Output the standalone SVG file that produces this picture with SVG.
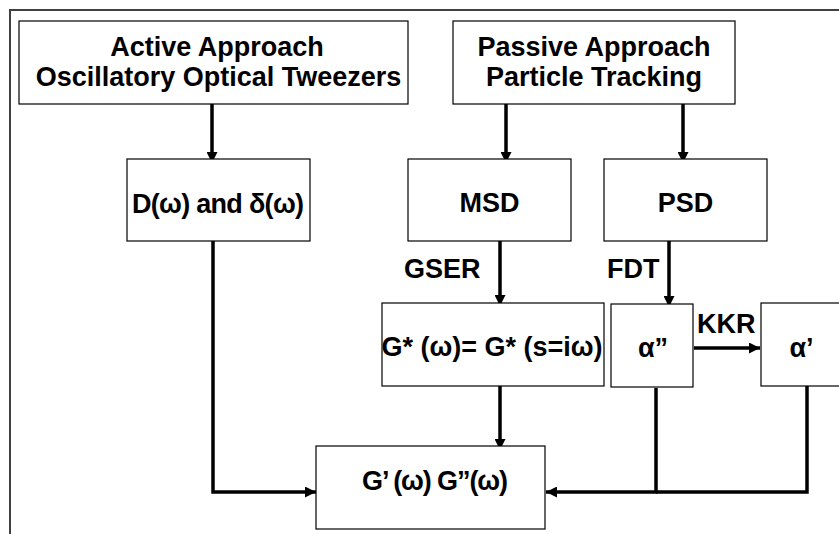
<svg xmlns="http://www.w3.org/2000/svg" width="839" height="534" viewBox="0 0 839 534">
<defs>
<style>
.box{fill:#fff;stroke:#000;stroke-width:1.2}
.t{font-family:"Liberation Sans",Arial,sans-serif;font-weight:bold;font-size:27px;fill:#000}
.c{text-anchor:middle}
.ln{fill:none;stroke:#000;stroke-width:3.5}
</style>
<marker id="ah" markerUnits="userSpaceOnUse" markerWidth="11" markerHeight="11" viewBox="0 0 10 10" refX="10" refY="5" orient="auto">
<path d="M0,0 L10,5 L0,10 z" fill="#000"/>
</marker>
</defs>
<rect x="0" y="0" width="839" height="534" fill="#fff"/>
<rect x="10" y="10" width="850" height="540" fill="none" stroke="#404040" stroke-width="2"/>
<g id="connectors">
<path class="ln" d="M212 104 V163" marker-end="url(#ah)"/>
<path class="ln" d="M506 104 V163" marker-end="url(#ah)"/>
<path class="ln" d="M683 104 V163" marker-end="url(#ah)"/>
<path class="ln" d="M500 241 V306" marker-end="url(#ah)"/>
<path class="ln" d="M669 241 V307" marker-end="url(#ah)"/>
<path class="ln" d="M500 386 V450" marker-end="url(#ah)"/>
<path class="ln" d="M694 348 H760" marker-end="url(#ah)"/>
<path class="ln" d="M213 241 V492 H316" marker-end="url(#ah)"/>
<path class="ln" d="M807 386 V492 H656"/>
<path class="ln" d="M656 388 V492 H546" marker-end="url(#ah)"/>
</g>
<g id="active">
<rect class="box" x="19" y="21" width="389" height="83"/>
<text class="t c" x="217" y="56">Active Approach</text>
<text class="t c" x="218.5" y="86">Oscillatory Optical Tweezers</text>
</g>
<g id="passive">
<rect class="box" x="453" y="21" width="282" height="83"/>
<text class="t c" x="594" y="56">Passive Approach</text>
<text class="t c" x="594" y="86">Particle Tracking</text>
</g>
<g id="d">
<rect class="box" x="127" y="159" width="183" height="82"/>
<text class="t c" x="218" y="213" textLength="172">D(ω) and δ(ω)</text>
</g>
<g id="msd">
<rect class="box" x="408" y="159" width="163" height="82"/>
<text class="t c" x="489.5" y="212">MSD</text>
</g>
<g id="psd">
<rect class="box" x="604" y="159" width="163" height="82"/>
<text class="t c" x="685.5" y="212">PSD</text>
</g>
<g id="labels">
<text class="t" x="404" y="278">GSER</text>
<text class="t" x="607" y="278">FDT</text>
<text class="t" x="697" y="333">KKR</text>
</g>
<g id="gstar">
<rect class="box" x="382" y="303" width="222" height="83"/>
<text class="t c" x="492" y="356">G* (ω)= G* (s=iω)</text>
</g>
<g id="alpha2">
<rect class="box" x="611" y="304" width="82" height="83"/>
<text class="t c" x="653" y="357">α”</text>
</g>
<g id="alpha1">
<rect class="box" x="761" y="303" width="90" height="83"/>
<text class="t c" x="801.5" y="357">α’</text>
</g>
<g id="gprime">
<rect class="box" x="316" y="446" width="229" height="83"/>
<text class="t c" x="435" y="490" textLength="146">G’ (ω) G”(ω)</text>
</g>
</svg>
